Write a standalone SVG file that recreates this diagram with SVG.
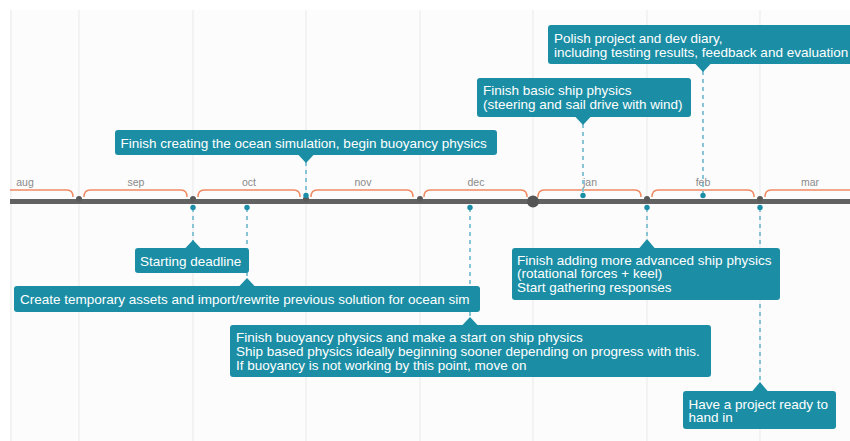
<svg xmlns="http://www.w3.org/2000/svg" width="850" height="441" viewBox="0 0 850 441">
<style>
.grid{stroke:#ececec;stroke-width:1.2}
.month{fill:#8a8a8a;font-family:"Liberation Sans",Arial,sans-serif;font-size:10.5px;text-anchor:middle}
.brace{fill:none;stroke:#f08a62;stroke-width:1.5}
.axisdot{fill:#5a5a5a}
.evdot{fill:#1a8ea6}
.dash{stroke:#88c5d4;stroke-width:2;stroke-dasharray:4 4}
.box{fill:#1b8ea5}
.lbl{fill:#ffffff;font-family:"Liberation Sans",Arial,sans-serif;font-size:13.5px}
</style>
<rect width="850" height="441" fill="#ffffff"/>
<rect x="10" y="10" width="840" height="431" fill="#fcfcfc"/>
<g id="grid">
<line class="grid" x1="11" y1="10" x2="11" y2="441"/>
<line class="grid" x1="79" y1="10" x2="79" y2="441"/>
<line class="grid" x1="193" y1="10" x2="193" y2="441"/>
<line class="grid" x1="306" y1="10" x2="306" y2="441"/>
<line class="grid" x1="420" y1="10" x2="420" y2="441"/>
<line class="grid" x1="533" y1="10" x2="533" y2="441"/>
<line class="grid" x1="647" y1="10" x2="647" y2="441"/>
<line class="grid" x1="760" y1="10" x2="760" y2="441"/>
</g>
<g id="months">
<path class="brace" d="M10 190 H67 Q73 190 73 197"/>
<path class="brace" d="M84 197 Q84 190 90 190 H181 Q187 190 187 197"/>
<path class="brace" d="M198 197 Q198 190 204 190 H294 Q300 190 300 197"/>
<path class="brace" d="M311 197 Q311 190 317 190 H407 Q413 190 413 197"/>
<path class="brace" d="M424 197 Q424 190 430 190 H521 Q527 190 527 197"/>
<path class="brace" d="M538 197 Q538 190 544 190 H635 Q641 190 641 197"/>
<path class="brace" d="M652 197 Q652 190 658 190 H748 Q754 190 754 197"/>
<path class="brace" d="M765 197 Q765 190 771 190 H850"/>
<text class="month" x="25" y="186">aug</text>
<text class="month" x="136" y="186">sep</text>
<text class="month" x="249" y="186">oct</text>
<text class="month" x="363" y="186">nov</text>
<text class="month" x="476" y="186">dec</text>
<text class="month" x="590" y="186">jan</text>
<text class="month" x="703" y="186">feb</text>
<text class="month" x="810" y="186">mar</text>
</g>
<g id="connectors">
<line class="dash" x1="193" y1="208" x2="193" y2="241"/>
<line class="dash" x1="247" y1="208" x2="247" y2="279"/>
<line class="dash" x1="306" y1="162" x2="306" y2="196"/>
<line class="dash" x1="470" y1="208" x2="470" y2="318"/>
<line class="dash" x1="583" y1="124" x2="583" y2="195"/>
<line class="dash" x1="703" y1="71" x2="703" y2="195"/>
<line class="dash" x1="647" y1="208" x2="647" y2="240"/>
<line class="dash" x1="760" y1="208" x2="760" y2="383"/>
</g>
<g id="axis">
<rect x="10" y="199" width="840" height="5" fill="#626262"/>
<circle class="axisdot" cx="79" cy="199" r="3"/>
<circle class="axisdot" cx="193" cy="199" r="3"/>
<circle class="axisdot" cx="306" cy="199" r="3"/>
<circle class="axisdot" cx="420" cy="199" r="3"/>
<circle class="axisdot" cx="647" cy="199" r="3"/>
<circle class="axisdot" cx="760" cy="199" r="3"/>
<circle cx="533" cy="201.5" r="6" fill="#555555"/>
<circle class="evdot" cx="193" cy="207.5" r="2.7"/>
<circle class="evdot" cx="247" cy="207.5" r="2.7"/>
<circle class="evdot" cx="306" cy="195.5" r="2.7"/>
<circle class="evdot" cx="470" cy="207.5" r="2.7"/>
<circle class="evdot" cx="583" cy="195.5" r="2.7"/>
<circle class="evdot" cx="703" cy="195.5" r="2.7"/>
<circle class="evdot" cx="647" cy="207.5" r="2.7"/>
<circle class="evdot" cx="760" cy="207.5" r="2.7"/>
</g>
<g id="ev-starting-deadline">
<rect class="box" x="135" y="248" width="114" height="25" rx="3"/>
<polygon class="box" points="185,248.5 193,240 201,248.5"/>
<text class="lbl" x="140" y="266">Starting deadline</text>
</g>
<g id="ev-temporary-assets">
<rect class="box" x="14" y="286" width="466" height="26" rx="3"/>
<polygon class="box" points="239,286.5 247,278 255,286.5"/>
<text class="lbl" x="20" y="303.5">Create temporary assets and import/rewrite previous solution for ocean sim</text>
</g>
<g id="ev-ocean-simulation">
<rect class="box" x="115" y="130" width="382" height="25" rx="3"/>
<polygon class="box" points="298,154.5 306,163 314,154.5"/>
<text class="lbl" x="120.5" y="147.5">Finish creating the ocean simulation, begin buoyancy physics</text>
</g>
<g id="ev-buoyancy">
<rect class="box" x="230" y="325" width="481" height="52" rx="3"/>
<polygon class="box" points="462,325.5 470,317 478,325.5"/>
<text class="lbl" x="236" y="341.5">Finish buoyancy physics and make a start on ship physics</text>
<text class="lbl" x="236" y="355.5">Ship based physics ideally beginning sooner depending on progress with this.</text>
<text class="lbl" x="236" y="369.5">If buoyancy is not working by this point, move on</text>
</g>
<g id="ev-basic-ship">
<rect class="box" x="477" y="78" width="214" height="39" rx="3"/>
<polygon class="box" points="575,116.5 583,125 591,116.5"/>
<text class="lbl" x="483" y="95">Finish basic ship physics</text>
<text class="lbl" x="483" y="108.5">(steering and sail drive with wind)</text>
</g>
<g id="ev-polish">
<rect class="box" x="548" y="25" width="312" height="39" rx="3"/>
<polygon class="box" points="695,63.5 703,72 711,63.5"/>
<text class="lbl" x="554" y="43.3">Polish project and dev diary,</text>
<text class="lbl" x="554" y="56.8">including testing results, feedback and evaluation</text>
</g>
<g id="ev-advanced-ship">
<rect class="box" x="512" y="248" width="268" height="52" rx="3"/>
<polygon class="box" points="639,248.5 647,239 655,248.5"/>
<text class="lbl" x="517" y="264.5">Finish adding more advanced ship physics</text>
<text class="lbl" x="517" y="278.2">(rotational forces + keel)</text>
<text class="lbl" x="517" y="292">Start gathering responses</text>
</g>
<g id="ev-hand-in">
<rect class="box" x="683" y="391" width="153" height="38" rx="3"/>
<polygon class="box" points="752,391.5 760,382 768,391.5"/>
<text class="lbl" x="688.5" y="408.5">Have a project ready to</text>
<text class="lbl" x="688.5" y="422">hand in</text>
</g>
</svg>
